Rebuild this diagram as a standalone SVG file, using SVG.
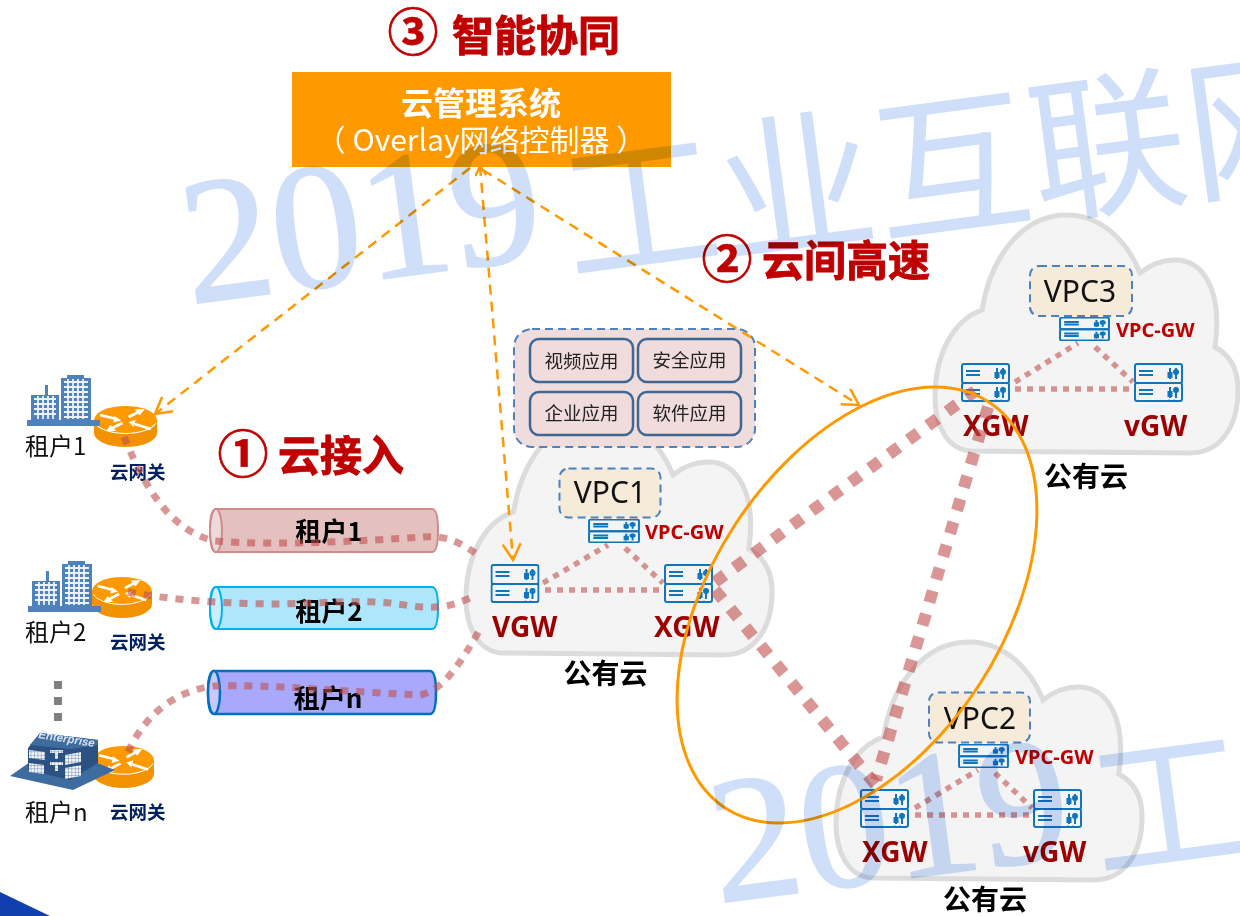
<svg xmlns="http://www.w3.org/2000/svg" width="1240" height="916" viewBox="0 0 1240 916">
<style>
text{font-family:"Noto Sans CJK SC","Noto Sans",sans-serif}
.wm{fill:#cfdffa;stroke:#cfdffa;mix-blend-mode:multiply}
.wmd{font-family:"Liberation Serif",serif;font-size:180px;stroke-width:2}
.wmc{font-size:157px;stroke-width:0}
.title{fill:#c00000;stroke:#c00000;stroke-width:.9;font-weight:700;font-size:42px}
.num{fill:#c00000;stroke:#c00000;stroke-width:.6;font-weight:700;font-size:51px;text-anchor:middle}
.cloud{fill:#f4f4f4;stroke:#dcdcdc;stroke-width:5}
.dash{stroke:#4f81bd;stroke-width:2;stroke-dasharray:8 5}
.vpc{fill:#f6ead8}
.vpct{font-family:"Noto Sans",sans-serif;font-size:30px;fill:#111;text-anchor:middle}
.gw{font-size:28px;font-weight:700;fill:#9c0000;font-family:"Noto Sans",sans-serif}
.vg{font-size:20px;font-weight:700;fill:#c00000;font-family:"Noto Sans",sans-serif}
.pub{font-size:28px;font-weight:700;fill:#000;text-anchor:middle}
.ten{font-size:24px;fill:#111}
.cg{font-size:18.5px;font-weight:700;fill:#002060}
.cyl{font-size:26px;font-weight:700;fill:#000;text-anchor:middle}
.app{fill:#f0dcdc;stroke:#3e6795;stroke-width:2.5}
.appt{font-size:18.5px;fill:#222;text-anchor:middle}
.thin{fill:none;stroke:#c0504d;stroke-opacity:.6;stroke-width:7;stroke-dasharray:8 8}
.tri{fill:none;stroke:#c0504d;stroke-opacity:.6;stroke-width:5.5;stroke-dasharray:6 6}
.thick{fill:none;stroke:#c0504d;stroke-opacity:.6;stroke-width:12;stroke-dasharray:12 12}
.ctl{fill:none;stroke:#ff9900;stroke-width:2.5;stroke-dasharray:10 7}
.srv{fill:none;stroke:#0f75bd;stroke-width:2;vector-effect:non-scaling-stroke}
.bld{fill:#4f81bd}
</style>
<defs>
<path id="cloudp" d="M35,236 C12,234 0,210 0,182 C0,140 18,105 47,95 C55,45 85,0 132,0 C165,0 192,25 205,58 C215,50 227,45 240,45 C268,45 288,75 280,132 C295,140 303,155 303,175 C303,212 285,238 255,238 Z"/>
<marker id="vee" viewBox="0 0 20 20" refX="18" refY="10" markerWidth="20" markerHeight="20" markerUnits="userSpaceOnUse" orient="auto-start-reverse"><path d="M2,1 L18,10 L2,19" fill="none" stroke="#ff9900" stroke-width="2.5"/></marker>
<marker id="veeS" viewBox="0 0 20 20" refX="18" refY="10" markerWidth="12" markerHeight="12" markerUnits="userSpaceOnUse" orient="auto-start-reverse"><path d="M2,1 L18,10 L2,19" fill="none" stroke="#ff9900" stroke-width="4"/></marker>
<pattern id="grid" width="3.4" height="3.4" patternUnits="userSpaceOnUse"><rect width="3.4" height="3.4" fill="#f2f5fa"/><path d="M0,0H3.4M0,0V3.4" stroke="#4f6f96" stroke-width=".8"/></pattern>
<symbol id="server" viewBox="0 0 49 39" preserveAspectRatio="none">
<rect class="srv" x="1" y="1" width="47" height="19" rx="2"/>
<rect class="srv" x="1" y="20" width="47" height="18" rx="2"/>
<path class="srv" d="M5,8H19M5,12H19M5,27H19M5,31H19M36,5V16M42,5V16M36,24V35M42,24V35"/>
<rect class="srv" x="34.500" y="10" width="3" height="4"/><circle class="srv" cx="42" cy="9" r="2"/>
<rect class="srv" x="34.500" y="29" width="3" height="4"/><circle class="srv" cx="42" cy="27" r="2"/>
<circle cx="35" cy="38" r="1.500" fill="#0f75bd"/><circle cx="40" cy="38" r="1.500" fill="#0f75bd"/>
</symbol>
<symbol id="router" viewBox="0 0 62 41" preserveAspectRatio="none">
<path d="M0,14 V27 A31,14 0 0 0 62,27 V14 Z" fill="#f39200"/>
<ellipse cx="31" cy="14" rx="31" ry="14" fill="#ff9900"/>
<path d="M1,17 A31,14 0 0 0 61,17" fill="none" stroke="#fff" stroke-width="1"/>
<path d="M6,9 L22,13 M44,6 L34,11 M18,22 L28,17 M56,23 L40,18" stroke="#fff" stroke-width="2.600" fill="none"/>
<path d="M27,14.500 L20,10 L19,16.500Z M50,3 L40,3.500 L45,9.500Z M12,25 L22,25 L16,19Z M34,16 L41,14 L39,21Z" fill="#fff"/>
</symbol>
<symbol id="building" viewBox="0 0 73 51" preserveAspectRatio="none">
<rect class="bld" y="45" width="73" height="6"/>
<path class="bld" d="M4,46 V20 H18 V10 H21 V20 H32 V46Z M34,46 V3 H40 V0 H57 V3 H64 V46Z"/>
<path d="M7,24H29M7,29H29M7,34H29M7,39H29M37,7H61M37,12H61M37,17H61M37,22H61M37,27H61M37,32H61M37,37H61M37,42H61M11,21V44M16,21V44M21,21V44M26,21V44M41,4V44M46,4V44M51,4V44M56,4V44" stroke="#fff" stroke-width="1.800" fill="none" opacity=".9"/>
</symbol>
</defs>

<g id="cloud1"><use href="#cloudp" class="cloud" transform="translate(466,417) scale(1.010,1)"/></g>
<g id="cloud3"><use href="#cloudp" class="cloud" transform="translate(935,215)"/></g>
<g id="cloud2"><use href="#cloudp" class="cloud" transform="translate(836,642) scale(1.010,1)"/></g>

<g id="tenant1">
<use href="#router" x="94" y="406" width="63" height="41"/>
<use href="#building" x="27" y="375" width="73" height="51"/>
<text class="ten" x="25" y="455">租户1</text>
<text class="cg" x="110" y="479">云网关</text>
</g>
<g id="tenant2">
<use href="#router" x="92" y="577" width="60" height="41"/>
<use href="#building" x="28" y="561" width="73" height="51"/>
<text class="ten" x="25" y="641">租户2</text>
<text class="cg" x="110" y="649">云网关</text>
</g>
<g id="ellipsis" fill="#7f7f7f"><rect x="54" y="681" width="8" height="8"/><rect x="54" y="697" width="8" height="8"/><rect x="54" y="713" width="8" height="8"/></g>
<g id="tenantn">
<use href="#router" x="93" y="746" width="61" height="42"/>
<path d="M10,776 L30,762 L84,758 L115,770 L73,790Z" fill="#3f6c9e"/>
<path d="M28,748 L40,733 L98,740 L98,763 L70,780 L28,770Z" fill="#2b5283"/>
<path d="M40,733 L98,740 L98,745 L70,749 L30,745Z" fill="#3f6c9e"/>
<path d="M29,750 L45,752 V760 L29,758Z M29,763 L44,765 V774 L29,772Z M65,755 L81,752 V762 L65,765Z M65,768 L81,765 V776 L65,779Z M50,750 H63 V753 H58 V759 H55 V753 H50Z M50,762 H63 V765 H58 V771 H55 V765 H50Z" fill="url(#grid)"/>
<text x="38" y="738" font-size="11.500" font-style="italic" font-weight="700" fill="#d8e4f2" transform="rotate(9 38 738)" style="font-family:'Liberation Sans',sans-serif">Enterprise</text>
<text class="ten" x="25" y="821">租户n</text>
<text class="cg" x="110" y="819">云网关</text>
</g>

<g id="tunnel1">
<path d="M216,509 H432 Q438,509 438,530.500 Q438,552 432,552 H216 Q210,552 210,530.500 Q210,509 216,509Z" fill="#e4c0bf" stroke="#cf8b8b" stroke-width="2"/>
<ellipse cx="216" cy="530.500" rx="6" ry="21.500" fill="#eedadb" stroke="#cf8b8b" stroke-width="2"/>
<text class="cyl" x="329" y="541">租户1</text>
</g>
<g id="tunnel2">
<path d="M216,587 H432 Q438,587 438,608 Q438,629 432,629 H216 Q210,629 210,608 Q210,587 216,587Z" fill="#aee6fb" stroke="#00b0f0" stroke-width="2"/>
<ellipse cx="216" cy="608" rx="6" ry="21" fill="#c9effc" stroke="#00b0f0" stroke-width="2"/>
<text class="cyl" x="329" y="621">租户2</text>
</g>
<g id="tunneln">
<path d="M214,671 H430 Q436,671 436,692.500 Q436,714 430,714 H214 Q208,714 208,692.500 Q208,671 214,671Z" fill="#a8a8fc" stroke="#0070c0" stroke-width="2.500"/>
<ellipse cx="214" cy="692.500" rx="6" ry="21.500" fill="#c8c8fd" stroke="#0070c0" stroke-width="2.500"/>
<text class="cyl" x="328" y="708">租户n</text>
</g>

<g id="apps">
<rect x="514" y="329" width="241" height="118" rx="18" fill="#efdcdc" stroke="#4f81bd" stroke-width="2" stroke-dasharray="8 5"/>
<rect class="app" x="530" y="339" width="103" height="43" rx="9"/><text class="appt" x="581.500" y="368">视频应用</text>
<rect class="app" x="638" y="339" width="103" height="43" rx="9"/><text class="appt" x="689.500" y="367">安全应用</text>
<rect class="app" x="530" y="392" width="103" height="43" rx="9"/><text class="appt" x="581.500" y="420">企业应用</text>
<rect class="app" x="638" y="392" width="103" height="43" rx="9"/><text class="appt" x="689.500" y="420">软件应用</text>
</g>

<g id="controller">
<rect x="292" y="72" width="379" height="95" fill="#ff9900"/>
<text x="481" y="115" font-size="32" font-weight="700" fill="#fff" text-anchor="middle">云管理系统</text>
<text x="481" y="151" font-size="30" fill="#fff" text-anchor="middle">（ Overlay网络控制器 ）</text>
</g>

<g id="titles">
<text class="num" x="413" y="51">③</text><text class="title" x="452" y="51">智能协同</text>
<text class="num" x="727" y="278">②</text><text class="title" x="762" y="276">云间高速</text>
<text class="num" x="243" y="473">①</text><text class="title" x="278" y="471">云接入</text>
</g>

<g id="vpc1-group">
<rect class="vpc dash" x="559.500" y="468.500" width="101" height="49" rx="9"/>
<text class="vpct" x="610" y="503">VPC1</text>
<use href="#server" x="588" y="519" width="52" height="24"/>
<text class="vg" x="645" y="539">VPC-GW</text>
<use href="#server" x="490.500" y="564" width="49" height="39"/>
<use href="#server" x="664" y="564" width="49" height="39"/>
<text class="gw" x="492" y="637">VGW</text><text class="gw" x="654" y="637">XGW</text>
<text class="pub" x="605.500" y="684">公有云</text>
</g>
<g id="vpc3-group">
<rect class="vpc dash" x="1030" y="266" width="102" height="50" rx="9"/>
<text class="vpct" x="1080" y="302">VPC3</text>
<use href="#server" x="1059" y="317" width="51" height="24"/>
<text class="vg" x="1116" y="337">VPC-GW</text>
<use href="#server" x="961" y="363" width="49" height="39"/>
<use href="#server" x="1134" y="363" width="49" height="39"/>
<text class="gw" x="963" y="436">XGW</text><text class="gw" x="1124" y="436">vGW</text>
<text class="pub" x="1086" y="487">公有云</text>
</g>
<g id="vpc2-group">
<rect class="vpc dash" x="929" y="692.500" width="101" height="50" rx="9"/>
<text class="vpct" x="980" y="729">VPC2</text>
<use href="#server" x="958" y="744" width="51" height="24"/>
<text class="vg" x="1015" y="764">VPC-GW</text>
<use href="#server" x="860" y="789" width="49" height="39"/>
<use href="#server" x="1033" y="789" width="49" height="39"/>
<text class="gw" x="862" y="862">XGW</text><text class="gw" x="1023" y="862">vGW</text>
<text class="pub" x="985" y="910">公有云</text>
</g>

<g id="connectors">
<path class="thin" d="M124,437 C140,475 165,530 215,541 C280,546 360,541 423,537 C445,535 460,542 478,555"/>
<path class="thin" d="M128,592 C170,600 230,604 280,604 C320,603 360,600 390,603 C420,607 440,612 470,598"/>
<path class="thin" d="M128,752 C145,715 175,690 215,686 C270,684 350,692 420,695 C445,690 462,660 482,626"/>
<path class="tri" d="M543,583 L608,545 M625,548 L663,583 M545,590 H663"/>
<path class="tri" d="M1015,382 L1078,343 M1095,347 L1133,382 M1015,389 H1133"/>
<path class="tri" d="M915,808 L978,770 M995,773 L1032,808 M915,815 H1032"/>
<path class="thick" d="M715,582 L975,391"/>
<path class="thick" d="M715,590 L880,790"/>
<path class="thick" d="M988,407 L876,780"/>
<path class="ctl" d="M470,168 L155,414" marker-end="url(#vee)"/>
<path class="ctl" d="M480,166 L513,560" marker-start="url(#veeS)" marker-end="url(#vee)"/>
<path class="ctl" d="M483,170 L859,405" marker-end="url(#vee)"/>
<ellipse cx="857" cy="605" rx="242" ry="146" transform="rotate(-57 857 605)" fill="none" stroke="#ff9900" stroke-width="3"/>
</g>

<g id="watermark-top" class="wm" transform="translate(190,304) rotate(-7.500)">
<text class="wmd" x="0" y="0">2019</text><text class="wmc" x="381" y="20">工业互联网</text>
</g>
<g id="watermark-bottom" class="wm" transform="translate(718,903) rotate(-7.500)">
<text class="wmd" x="0" y="0">2019</text><text class="wmc" x="381" y="18">工</text>
</g>
<polygon id="corner" points="0,892 50,916 0,916" fill="#1040b0"/>
</svg>
